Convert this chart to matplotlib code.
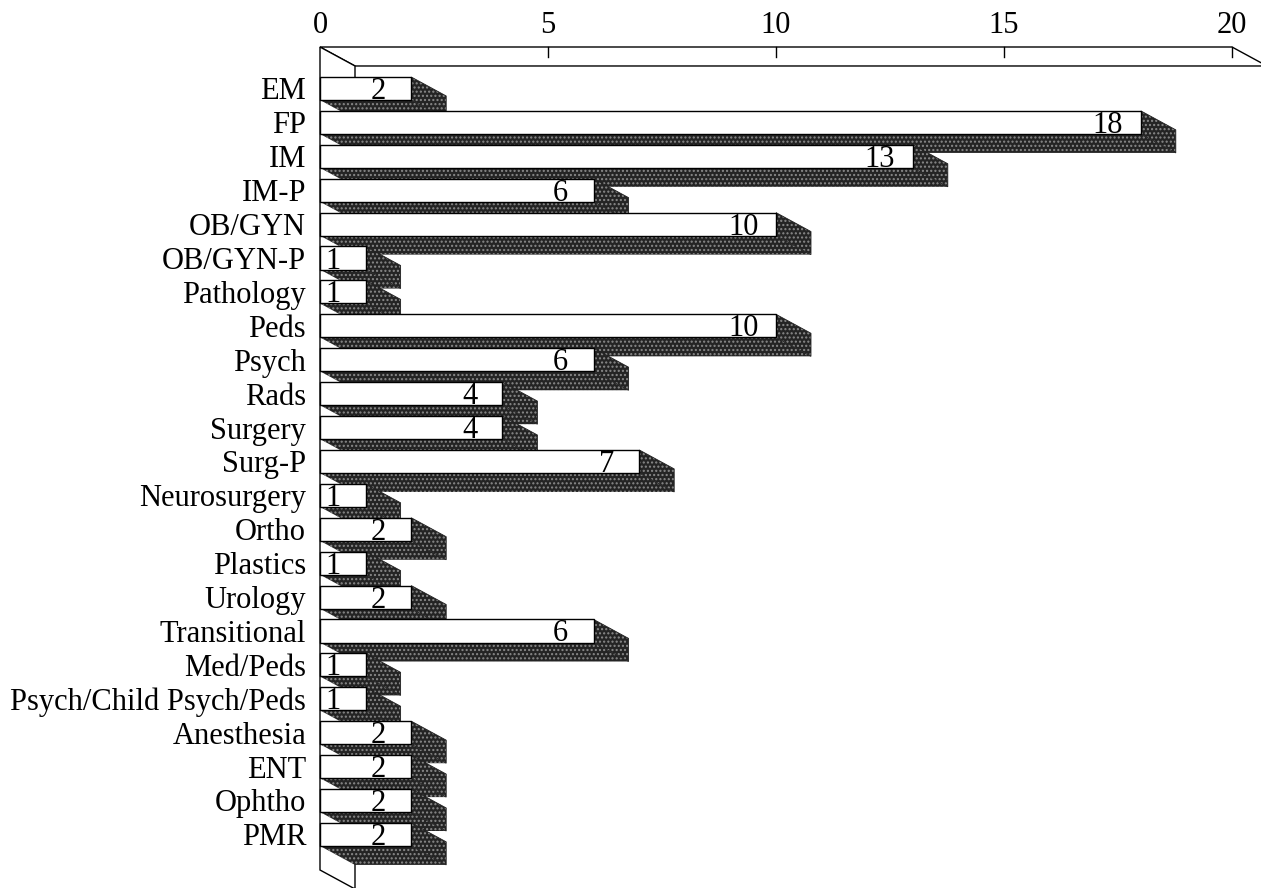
import matplotlib
matplotlib.use('Agg')
import matplotlib.pyplot as plt
from matplotlib.patches import Polygon
import numpy as np

plt.rcParams['font.family'] = ['Liberation Serif', 'DejaVu Serif']
plt.rcParams['hatch.linewidth'] = 1.0

# Data
kategori = ['EM', 'FP', 'IM', 'IM-P', 'OB/GYN', 'OB/GYN-P', 'Pathology', 'Peds',
            'Psych', 'Rads', 'Surgery', 'Surg-P', 'Neurosurgery', 'Ortho', 'Plastics',
            'Urology', 'Transitional', 'Med/Peds', 'Psych/Child Psych/Peds',
            'Anesthesia', 'ENT', 'Ophtho', 'PMR']
nilai = [2, 18, 13, 6, 10, 1, 1, 10, 6, 4, 4, 7, 1, 2, 1, 2, 6, 1, 1, 2, 2, 2, 2]
x_ticks = [0, 5, 10, 15, 20]

# Geometri pseudo-3D (satuan data)
dx = 0.7675      # kedalaman horizontal
dy = 0.56        # kedalaman vertikal
h = 0.34         # setengah tinggi muka depan
y_top = -1.224
y_bot = 23.05
warna_gelap = '#242424'
warna_titik = '#8a8a8a'

fig = plt.figure(figsize=(12.61, 8.88), dpi=100)
ax = fig.add_axes([320/1261, 1 - 870/888, 912/1261, 823/888])
ax.set_xlim(0, 20)
ax.set_ylim(y_bot, y_top)
ax.patch.set_visible(False)
for s in ax.spines.values():
    s.set_visible(False)

# Dinding atas dan kiri
ax.add_patch(Polygon([(0, y_top), (20, y_top), (20 + dx, y_top + dy), (dx, y_top + dy)],
                     closed=True, facecolor='white', edgecolor='black', lw=1.0, clip_on=False))
ax.add_patch(Polygon([(0, y_top), (dx, y_top + dy), (dx, y_bot + dy), (0, y_bot)],
                     closed=True, facecolor='white', edgecolor='black', lw=1.0, clip_on=False))
for t in x_ticks[1:]:
    ax.plot([t, t], [y_top, y_top + 0.3], color='black', lw=1.0, clip_on=False)

# Batang
for i, v in enumerate(nilai):
    top, bot = i - h, i + h
    bawah = Polygon([(0, bot), (v, bot), (v + dx, bot + dy), (dx, bot + dy)], closed=True,
                    facecolor=warna_gelap, edgecolor=warna_titik, hatch='....', lw=0, clip_on=False)
    sisi = Polygon([(v, top), (v + dx, top + dy), (v + dx, bot + dy), (v, bot)], closed=True,
                   facecolor=warna_gelap, edgecolor=warna_titik, hatch='....', lw=0, clip_on=False)
    ax.add_patch(bawah)
    ax.add_patch(sisi)
    ax.add_patch(Polygon([(0, bot), (v, bot), (v + dx, bot + dy), (v + dx, top + dy), (v, top)],
                         closed=False, fill=False, edgecolor='#222222', lw=0.6, clip_on=False))
    ax.add_patch(Polygon([(0, top), (v, top), (v, bot), (0, bot)], closed=True,
                         facecolor='white', edgecolor='black', lw=1.0, clip_on=False))
    ax.text(v - 0.72, bot - 0.03, str(v), ha='center', va='baseline', fontsize=22)

ax.xaxis.tick_top()
ax.set_xticks(x_ticks)
ax.set_xticklabels([str(t) for t in x_ticks], fontsize=22)
ax.tick_params(axis='x', length=0, pad=5)
ax.set_yticks(range(len(kategori)))
ax.set_yticklabels(kategori, fontsize=22)
ax.tick_params(axis='y', length=0, pad=10)

fig.savefig('out.png', dpi=100)
